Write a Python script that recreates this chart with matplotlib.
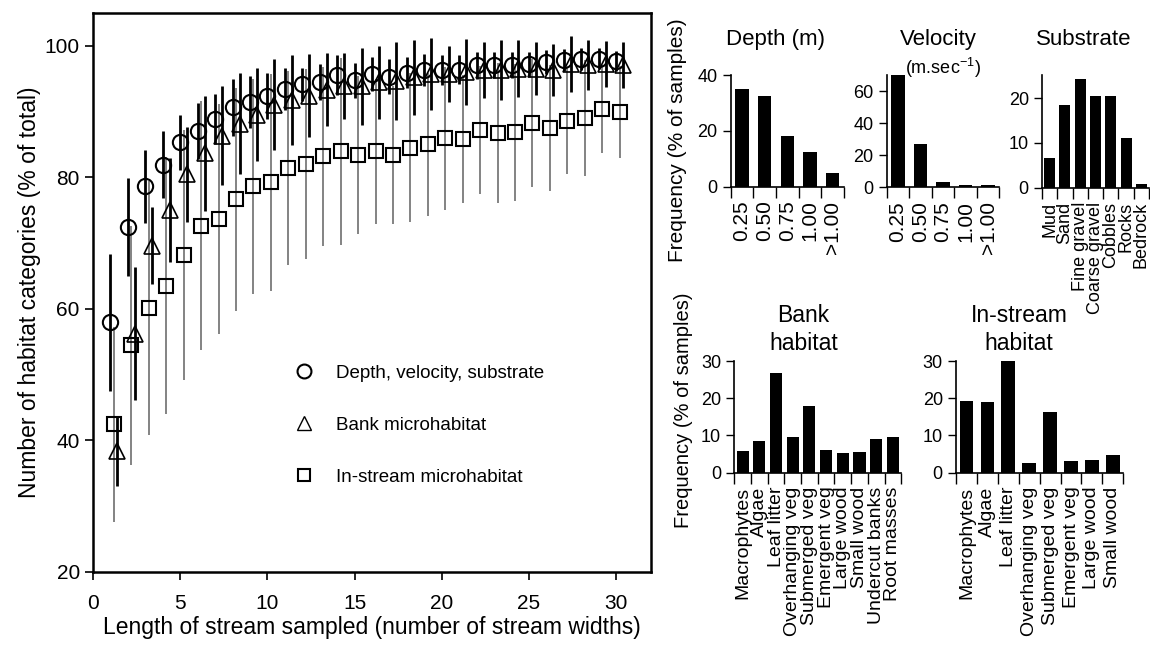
import numpy as np
import matplotlib
matplotlib.use("Agg")
import matplotlib.pyplot as plt
from matplotlib.lines import Line2D

plt.rcParams["font.family"] = ["Liberation Sans", "DejaVu Sans"]

# cumulative habitat categories vs. length of stream sampled
stream_widths = list(range(1, 31))

dvs_mean = [57.9, 72.4, 78.6, 81.9, 85.3, 87.0, 88.9, 90.6, 91.4, 92.3,
            93.4, 94.1, 94.5, 95.5, 94.7, 95.7, 95.3, 95.9, 96.3, 96.3,
            96.3, 97.0, 97.1, 97.1, 97.2, 97.5, 97.8, 98.0, 98.0, 97.7]
dvs_sd = [10.4, 7.4, 5.5, 5.1, 4.2, 4.2, 3.8, 4.3, 4.0, 3.5,
          3.2, 2.5, 2.7, 3.0, 2.7, 2.6, 2.6, 2.4, 2.4, 2.3,
          2.2, 2.1, 2.0, 2.0, 1.9, 1.8, 1.7, 1.7, 1.6, 1.5]

bank_mean = [38.4, 56.2, 69.6, 75.0, 80.4, 83.6, 86.3, 88.1, 89.5, 91.0,
             91.7, 92.4, 93.3, 93.9, 93.8, 94.4, 94.6, 95.2, 95.7, 95.7,
             96.0, 96.3, 96.3, 96.5, 96.5, 96.3, 97.2, 97.1, 97.2, 97.0]
bank_sd = [5.3, 10.1, 5.8, 7.9, 7.2, 8.7, 7.5, 7.7, 7.1, 6.9,
           6.8, 6.3, 5.5, 5.0, 5.8, 5.6, 5.9, 5.7, 5.5, 4.3,
           5.0, 4.3, 4.5, 4.3, 4.0, 4.0, 4.2, 3.8, 3.5, 3.5]

instream_mean = [42.4, 54.4, 60.1, 63.5, 68.1, 72.6, 73.6, 76.6, 78.6, 79.2,
                 81.4, 82.0, 83.2, 83.9, 83.4, 83.9, 83.3, 84.5, 85.0, 85.9,
                 85.8, 87.2, 86.7, 86.8, 88.2, 87.5, 88.5, 89.0, 90.3, 89.9]
instream_sd = [14.8, 18.1, 19.3, 19.5, 19.0, 18.9, 17.5, 17.0, 16.3, 16.5,
               14.7, 14.5, 13.6, 14.2, 12.0, 11.0, 10.5, 11.3, 10.9, 10.9,
               9.7, 9.7, 10.6, 10.4, 9.7, 9.6, 8.1, 8.8, 6.7, 7.0]

# frequency distributions (% of samples)
depth_labels = ["0.25", "0.50", "0.75", "1.00", ">1.00"]
depth_pct = [34.9, 32.6, 18.0, 12.4, 4.8]

velocity_labels = ["0.25", "0.50", "0.75", "1.00", ">1.00"]
velocity_pct = [70.0, 27.3, 3.5, 1.2, 1.2]

substrate_labels = ["Mud", "Sand", "Fine gravel", "Coarse gravel",
                    "Cobbles", "Rocks", "Bedrock"]
substrate_pct = [6.6, 18.5, 24.3, 20.6, 20.4, 11.2, 0.8]

bank_labels = ["Macrophytes", "Algae", "Leaf litter", "Overhanging veg",
               "Submerged veg", "Emergent veg", "Large wood", "Small wood",
               "Undercut banks", "Root masses"]
bank_pct = [5.9, 8.6, 26.9, 9.7, 17.9, 6.0, 5.2, 5.5, 9.1, 9.6]

instream_labels = ["Macrophytes", "Algae", "Leaf litter", "Overhanging veg",
                   "Submerged veg", "Emergent veg", "Large wood", "Small wood"]
instream_pct = [19.3, 18.9, 30.1, 2.5, 16.4, 3.1, 3.3, 4.8]


fig = plt.figure(figsize=(11.5, 6.45), dpi=100)

# ---- main panel ----
ax = fig.add_axes([0.0809, 0.1136, 0.4852, 0.8667])
x = np.array(stream_widths, dtype=float)

ax.errorbar(x + 0.2, instream_mean, yerr=instream_sd, fmt="none",
            ecolor="#7a7a7a", elinewidth=1.3, zorder=1)
ax.errorbar(x + 0.4, bank_mean, yerr=bank_sd, fmt="none",
            ecolor="black", elinewidth=2, zorder=2)
ax.errorbar(x, dvs_mean, yerr=dvs_sd, fmt="none",
            ecolor="black", elinewidth=2, zorder=3)

ax.plot(x + 0.2, instream_mean, ls="none", marker="s", ms=9.5,
        mfc="none", mec="black", mew=1.5, zorder=4)
ax.plot(x + 0.4, bank_mean, ls="none", marker="^", ms=11.5,
        mfc="none", mec="black", mew=1.2, zorder=5)
ax.plot(x, dvs_mean, ls="none", marker="o", ms=11,
        mfc="none", mec="black", mew=1.5, zorder=6)

ax.set_xlim(0, 32)
ax.set_ylim(20, 105)
ax.set_xticks([0, 5, 10, 15, 20, 25, 30])
ax.set_yticks([20, 40, 60, 80, 100])
for s in ax.spines.values():
    s.set_linewidth(1.8)
ax.tick_params(direction="out", length=6, width=1.2, labelsize=15,
               top=False, right=False)
ax.tick_params(axis="x", pad=10)
ax.set_xlabel("Length of stream sampled (number of stream widths)",
              fontsize=16.5, labelpad=2)
ax.set_ylabel("Number of habitat categories (% of total)",
              fontsize=16.5, labelpad=3)

handles = [
    Line2D([], [], ls="none", marker="o", ms=10, mfc="none", mec="black", mew=1.5),
    Line2D([], [], ls="none", marker="^", ms=10, mfc="none", mec="black", mew=1.0),
    Line2D([], [], ls="none", marker="s", ms=9, mfc="none", mec="black", mew=1.5),
]
ax.legend(handles, ["Depth, velocity, substrate", "Bank microhabitat",
                    "In-stream microhabitat"],
          loc="center left", bbox_to_anchor=(0.344, 0.262), frameon=False,
          fontsize=13.5, handlelength=1.0, handletextpad=1.2,
          labelspacing=1.85, borderpad=0)


# ---- frequency histograms ----
def hist_panel(rect, labels, values, ymax, yticks, width, label_size):
    hax = fig.add_axes(rect)
    n = len(values)
    pos = np.arange(n) + 0.5
    hax.bar(pos, values, width=width, color="black", zorder=2)
    hax.set_xlim(0, n)
    hax.set_ylim(0, ymax)
    hax.set_yticks(yticks)
    hax.set_xticks(np.arange(n + 1))
    hax.set_xticklabels([])
    hax.set_xticks(pos, minor=True)
    hax.set_xticklabels(labels, minor=True, rotation=90, fontsize=label_size)
    hax.tick_params(axis="x", which="minor", length=0, pad=10)
    hax.tick_params(axis="x", which="major", length=8, width=1)
    hax.tick_params(axis="y", length=6, width=1, labelsize=13)
    hax.spines["top"].set_visible(False)
    hax.spines["right"].set_visible(False)
    hax.spines["left"].set_linewidth(1.2)
    hax.spines["bottom"].set_linewidth(1.2)
    return hax


hist_panel([0.6354, 0.7105, 0.0985, 0.1732], depth_labels, depth_pct,
           40, [0, 20, 40], 0.6, 15)
hist_panel([0.7710, 0.7096, 0.0981, 0.1735], velocity_labels, velocity_pct,
           70, [0, 20, 40, 60], 0.6, 15)
hist_panel([0.9061, 0.7090, 0.0930, 0.1747], substrate_labels, substrate_pct,
           25.2, [0, 10, 20], 0.72, 13)
hist_panel([0.6385, 0.2671, 0.1452, 0.1732], bank_labels, bank_pct,
           30, [0, 10, 20, 30], 0.72, 14)
hist_panel([0.8313, 0.2671, 0.1455, 0.1732], instream_labels, instream_pct,
           30, [0, 10, 20, 30], 0.65, 14)

fig.text(0.6745, 0.938, "Depth (m)", ha="center", va="center", fontsize=16)
fig.text(0.8157, 0.9395, "Velocity", ha="center", va="center", fontsize=16)
fig.text(0.820, 0.895, r"(m.sec$^{\mathregular{-1}}$)", ha="center",
         va="center", fontsize=13)
fig.text(0.9422, 0.938, "Substrate", ha="center", va="center", fontsize=16)
fig.text(0.6983, 0.5116, "Bank", ha="center", va="center", fontsize=16.5)
fig.text(0.6990, 0.468, "habitat", ha="center", va="center", fontsize=16.5)
fig.text(0.8860, 0.5116, "In-stream", ha="center", va="center", fontsize=16.5)
fig.text(0.8860, 0.468, "habitat", ha="center", va="center", fontsize=16.5)
fig.text(0.5887, 0.783, "Frequency (% of samples)", rotation=90,
         ha="center", va="center", fontsize=15)
fig.text(0.5940, 0.364, "Frequency (% of samples)", rotation=90,
         ha="center", va="center", fontsize=14.5)

fig.savefig("out.png", dpi=100)
